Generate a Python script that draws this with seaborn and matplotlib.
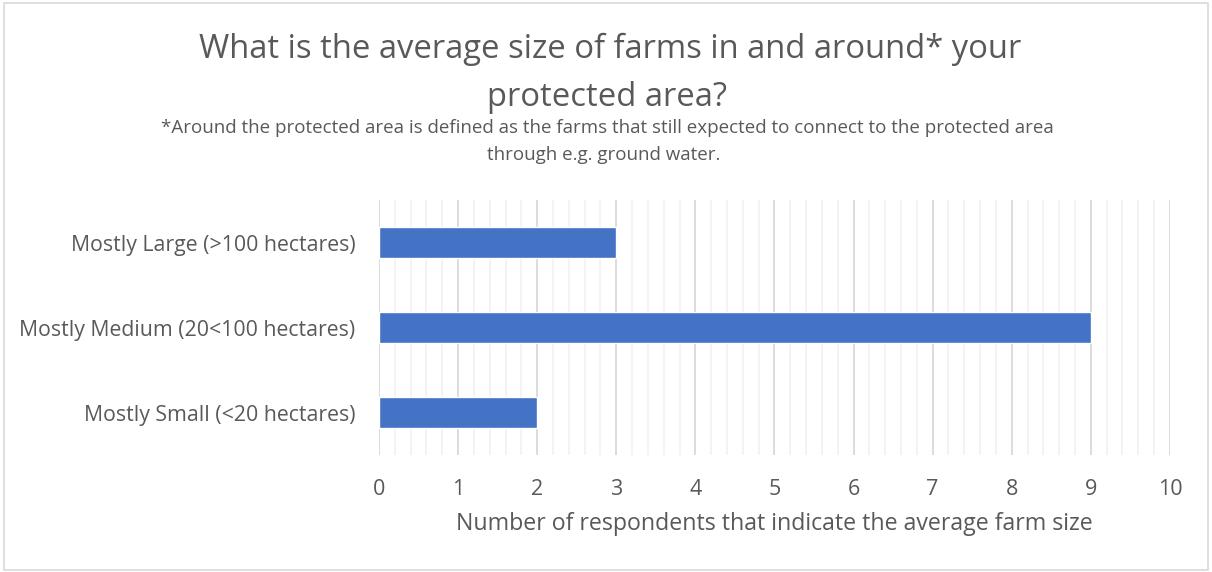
import matplotlib
matplotlib.use("Agg")
import matplotlib.pyplot as plt
import seaborn as sns
import pandas as pd
from matplotlib.patches import Rectangle
from matplotlib.ticker import MultipleLocator

categories = ["Mostly Large (>100 hectares)", "Mostly Medium (20<100 hectares)", "Mostly Small (<20 hectares)"]
values = [3, 9, 2]
xticks = list(range(0, 11))

title_lines = ["What is the average size of farms in and around* your", "protected area?"]
subtitle_lines = ["*Around the protected area is defined as the farms that still expected to connect to the protected area",
                  "through e.g. ground water."]
xlabel = "Number of respondents that indicate the average farm size"

sns.set_theme(style="white")
plt.rcParams['font.family'] = ['Open Sans', 'DejaVu Sans']
gray = "#595959"

df = pd.DataFrame({"category": categories, "value": values})

fig = plt.figure(figsize=(12.12, 5.72), dpi=100)
ax = fig.add_axes([0.3127, 0.2045, 0.6526, 0.4458])

sns.barplot(data=df, x="value", y="category", orient="h", color="#4472C4",
            saturation=1, width=0.355, ax=ax, zorder=3)

ax.set_xlim(0, 10)
ax.set_ylim(2.5, -0.5)
ax.set_xticks(xticks)
ax.xaxis.set_minor_locator(MultipleLocator(0.2))
ax.grid(which="major", axis="x", color="#D9D9D9", linewidth=1.3, zorder=0)
ax.grid(which="minor", axis="x", color="#F2F2F2", linewidth=1.3, zorder=0)
ax.grid(False, axis="y")
ax.set_axisbelow(True)
for s in ax.spines.values():
    s.set_visible(False)
ax.tick_params(axis="both", which="both", length=0)
ax.tick_params(axis="x", pad=17, labelsize=15.5, labelcolor=gray)
ax.tick_params(axis="y", pad=17, labelsize=15.3, labelcolor=gray)
ax.set_ylabel("")
ax.set_xlabel(xlabel, fontsize=16.7, color=gray, labelpad=9)

fig.text(0.503, 0.8986, title_lines[0], ha="center", va="baseline", fontsize=23.6, color=gray)
fig.text(0.501, 0.8147, title_lines[1], ha="center", va="baseline", fontsize=23.6, color=gray)
fig.text(0.501, 0.7675, subtitle_lines[0], ha="center", va="baseline", fontsize=13.5, color=gray)
fig.text(0.498, 0.7203, subtitle_lines[1], ha="center", va="baseline", fontsize=13.5, color=gray)

fig.patches.append(Rectangle((0.003, 0.004), 0.994, 0.991, transform=fig.transFigure,
                             fill=False, edgecolor="#D9D9D9", linewidth=1.2))

fig.savefig("out.png", dpi=100)
